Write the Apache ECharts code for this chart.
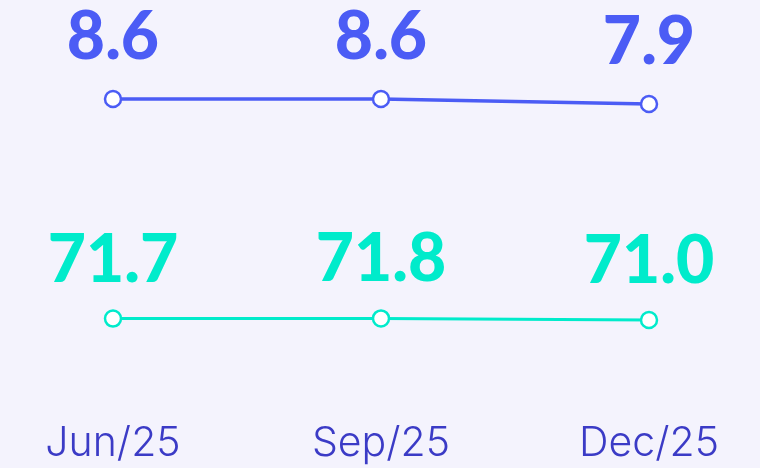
<!DOCTYPE html>
<html>
<head>
<meta charset="utf-8">
<script src="https://cdn.jsdelivr.net/npm/echarts@6/dist/echarts.min.js"></script>
<style>
  html, body { margin: 0; padding: 0; background: #f4f3fd; }
  #chart { width: 760px; height: 468px; }
</style>
</head>
<body>
<div id="chart"></div>
<script>
// Quarter labels and the two indicator series
const periods = ['Jun/25', 'Sep/25', 'Dec/25'];
const upperValues = [8.6, 8.6, 7.9];
const lowerValues = [71.7, 71.8, 71.0];

const blue = '#4b5cf5';
const teal = '#00ebcb';
const valueFont = 'Lato, Inter, "Noto Sans", sans-serif';
const axisFont = 'Inter, "Noto Sans", sans-serif';

const chart = echarts.init(document.getElementById('chart'), null, { renderer: 'canvas' });

function valueLabel(color, distance) {
  return {
    show: true,
    position: 'top',
    distance: distance,
    color: color,
    fontFamily: valueFont,
    fontWeight: 900,
    fontSize: 66,
    lineHeight: 66,
    formatter: p => p.value.toFixed(1)
  };
}

function hiddenCategory(gridIndex) {
  return {
    type: 'category', gridIndex, data: periods, boundaryGap: false,
    axisLine: { show: false }, axisTick: { show: false }, axisLabel: { show: false }, splitLine: { show: false }
  };
}

function hiddenValue(gridIndex, max) {
  return {
    type: 'value', gridIndex, min: 0, max,
    axisLine: { show: false }, axisTick: { show: false }, axisLabel: { show: false }, splitLine: { show: false }
  };
}

chart.setOption({
  backgroundColor: '#f4f3fd',
  animation: false,
  grid: [
    { left: 113, right: 111, top: 89, height: 71.4 },
    { left: 113, right: 111, top: 262, height: 200 },
    { left: 113, right: 111, top: 400, height: 10 }
  ],
  xAxis: [
    hiddenCategory(0),
    hiddenCategory(1),
    {
      type: 'category', gridIndex: 2, data: periods, boundaryGap: false,
      axisLine: { show: false }, axisTick: { show: false }, splitLine: { show: false },
      axisLabel: {
        show: true, margin: 13, color: '#3b3bc6',
        fontFamily: axisFont, fontWeight: 300, fontSize: 41
      }
    }
  ],
  yAxis: [hiddenValue(0, 10), hiddenValue(1, 100), hiddenValue(2, 1)],
  series: [
    {
      type: 'line', xAxisIndex: 0, yAxisIndex: 0, data: upperValues,
      lineStyle: { color: blue, width: 3.5 },
      symbol: 'circle', symbolSize: 16,
      itemStyle: { color: '#ffffff', borderColor: blue, borderWidth: 2.5 },
      label: valueLabel(blue, 19)
    },
    {
      type: 'line', xAxisIndex: 1, yAxisIndex: 1, data: lowerValues,
      lineStyle: { color: teal, width: 3 },
      symbol: 'circle', symbolSize: 16,
      itemStyle: { color: '#ffffff', borderColor: teal, borderWidth: 2.5 },
      label: valueLabel(teal, 16)
    }
  ]
});
</script>
</body>
</html>
